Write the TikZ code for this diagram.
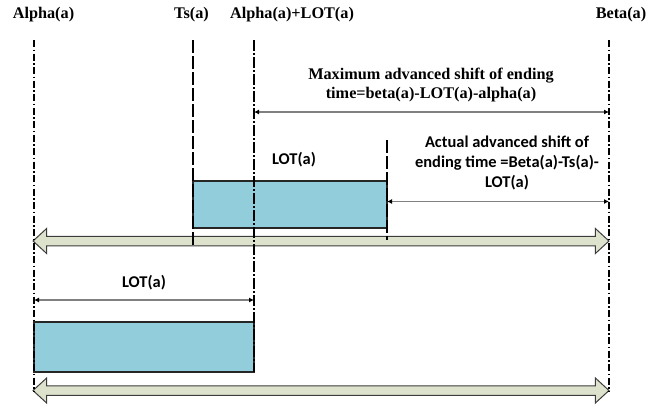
\documentclass[tikz,border=0pt]{standalone}
\usepackage{fontspec}
\setmainfont{Liberation Serif}
\newfontfamily\calib{Carlito}
\usetikzlibrary{arrows.meta,shapes.arrows}

\definecolor{barblue}{RGB}{146,205,220}
\definecolor{axisfill}{RGB}{221,226,204}
\definecolor{axisedge}{RGB}{60,60,60}
\definecolor{dimgray}{RGB}{128,128,128}

\tikzset{
  serifbold/.style={font=\fontsize{16.3}{19}\selectfont\bfseries, inner sep=0pt},
  sansbold/.style={font=\calib\fontsize{16.5}{20}\selectfont\bfseries, inner sep=0pt},
  bar/.style={draw=black!85, line width=1.1bp, fill=barblue, inner sep=0pt},
  timeaxis/.style={double arrow, draw=axisedge, fill=axisfill, line width=1bp,
    inner xsep=0pt, inner ysep=4.25bp, double arrow head extend=7.75bp,
    double arrow tip angle=85, minimum height=576bp},
  dimline/.style={draw=dimgray, line width=1.6bp,
    {Latex[black,length=5bp,width=5bp]}-{Latex[black,length=5bp,width=5bp]}},
  dashdotline/.style={line width=2bp, dash pattern=on 7bp off 2.5bp on 1.5bp off 2.5bp},
  longdashline/.style={line width=2bp, dash pattern=on 13bp off 3bp},
  longdashdotline/.style={line width=2bp, dash pattern=on 11bp off 2bp on 2bp off 2bp},
}

\begin{document}
\begin{tikzpicture}[x=1bp, y=-1bp]
\useasboundingbox (0,0) rectangle (659,405);

% time axes
\node[timeaxis] (axisU) at (321,241) {};
\node[timeaxis] (axisL) at (321,390.5) {};

% operation bars
\node[bar, minimum width=194bp, minimum height=47bp] (barU) at (290,204.5) {};
\node[bar, minimum width=220bp, minimum height=50bp] (barL) at (144,347) {};

% reference instants
\coordinate (alphaT) at (34,40);  \coordinate (alphaB) at (34,392);
\coordinate (tsT)    at (193,40); \coordinate (tsB)    at (193,245);
\coordinate (alotT)  at (254,40); \coordinate (alotB)  at (254,372);
\coordinate (endT)   at (387,140);\coordinate (endB)   at (387,240);
\coordinate (betaT)  at (609,40); \coordinate (betaB)  at (609,392);

\draw[dashdotline] (alphaT) -- (alphaB);
\draw[longdashline] (tsT) -- (tsB);
\draw[longdashdotline] (alotT) -- (alotB);
\draw[longdashline] (endT) -- (endB);
\draw[dashdotline] (betaT) -- (betaB);

% spans
\coordinate (maxL) at (254,112); \coordinate (maxR) at (609,112);
\coordinate (actL) at (387,201.5); \coordinate (actR) at (609,201.5);
\coordinate (lotL) at (34,300); \coordinate (lotR) at (254,300);
\draw[dimline] (maxL) -- (maxR);
\draw[dimline] (actL) -- (actR);
\draw[dimline] (lotL) -- (lotR);

% labels
\node[serifbold] (tAlpha) at (43.5,15) {Alpha(a)};
\node[serifbold] (tTs) at (191.5,15) {Ts(a)};
\node[serifbold] (tAlot) at (292,15) {Alpha(a)+LOT(a)};
\node[serifbold] (tBeta) at (621,15) {Beta(a)};
\node[serifbold, align=center] (tMax) at (431,85)
  {Maximum advanced shift of ending\\time=beta(a)-LOT(a)-alpha(a)};
\node[sansbold, align=center] (tAct) at (507,163)
  {Actual advanced shift of\\ending time =Beta(a)-Ts(a)-\\LOT(a)};
\node[sansbold] (tLotU) at (294,160) {LOT(a)};
\node[sansbold] (tLotL) at (144,283) {LOT(a)};
\end{tikzpicture}
\end{document}
